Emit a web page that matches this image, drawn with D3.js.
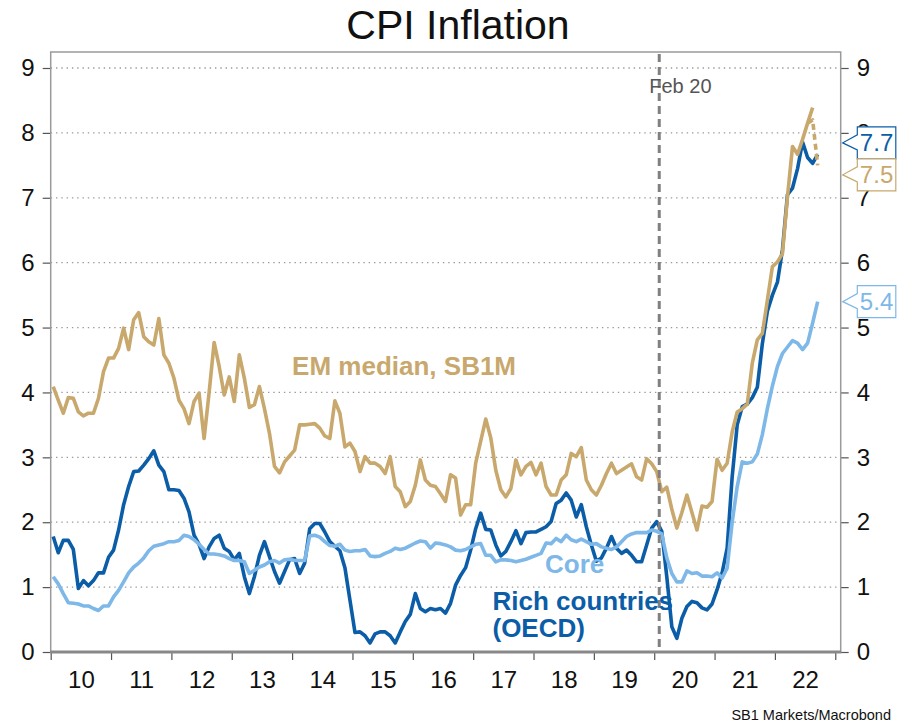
<!DOCTYPE html>
<html>
<head>
<meta charset="utf-8">
<script src="https://cdn.jsdelivr.net/npm/d3@7"></script>
<style>
	body { margin: 0; background: #fff; }
	svg { font-family: "Liberation Sans", Arial, sans-serif; }
</style>
</head>
<body>
<svg id="chart" width="911" height="724"></svg>
<script>
/*********************
	Data
**********************/
// monthly values, first one is Jan 2010
var start_year = 2010;

var em_median = [4.09, 3.88, 3.68, 3.92, 3.91, 3.70, 3.64, 3.68, 3.68, 3.91, 4.32, 4.53,
	4.53, 4.68, 4.99, 4.66, 5.12, 5.23, 4.86, 4.78, 4.73, 5.14, 4.58, 4.45,
	4.22, 3.88, 3.75, 3.52, 3.86, 3.99, 3.29, 4.00, 4.77, 4.40, 3.96, 4.24,
	3.86, 4.58, 4.22, 3.77, 3.81, 4.09, 3.75, 3.37, 2.86, 2.76, 2.93, 3.02,
	3.11, 3.50, 3.50, 3.51, 3.52, 3.45, 3.33, 3.29, 3.87, 3.68, 3.16, 3.22,
	3.09, 2.78, 3.01, 2.91, 2.91, 2.86, 2.75, 3.01, 2.55, 2.47, 2.24, 2.32,
	2.57, 2.96, 2.65, 2.57, 2.55, 2.44, 2.32, 2.73, 2.68, 2.11, 2.27, 2.27,
	2.91, 3.25, 3.59, 3.30, 2.80, 2.50, 2.39, 2.52, 2.96, 2.73, 2.86, 2.92,
	2.73, 2.91, 2.55, 2.42, 2.42, 2.65, 2.73, 3.06, 3.01, 3.15, 2.65, 2.50,
	2.42, 2.57, 2.75, 2.91, 2.75, 2.80, 2.85, 2.90, 2.70, 2.65, 2.98, 2.90,
	2.78, 2.47, 2.54, 2.20, 1.91, 2.15, 2.42, 2.15, 1.88, 2.25, 2.23, 2.32,
	2.97, 2.80, 2.91, 3.39, 3.70, 3.75, 3.82, 4.45, 4.81, 4.91, 5.42, 5.94,
	6.01, 6.14, 7.02, 7.79, 7.67, 7.90, 8.15, 8.39];

// dashed tail of the EM series, starts at month index 150
var em_tail_start = 150;
var em_tail = [8.15, 8.20, 7.50];

var rich_oecd = [1.78, 1.53, 1.72, 1.72, 1.58, 0.98, 1.10, 1.02, 1.10, 1.22, 1.22, 1.46,
	1.57, 1.88, 2.27, 2.55, 2.78, 2.79, 2.88, 2.98, 3.10, 2.88, 2.78, 2.50,
	2.50, 2.49, 2.37, 2.16, 1.80, 1.66, 1.44, 1.62, 1.75, 1.80, 1.60, 1.55,
	1.42, 1.52, 1.16, 0.90, 1.16, 1.49, 1.70, 1.47, 1.24, 1.06, 1.24, 1.42,
	1.44, 1.21, 1.37, 1.90, 1.98, 1.98, 1.85, 1.70, 1.63, 1.56, 1.30, 0.80,
	0.30, 0.31, 0.25, 0.14, 0.28, 0.31, 0.31, 0.25, 0.14, 0.31, 0.47, 0.58,
	0.90, 0.67, 0.62, 0.67, 0.65, 0.67, 0.60, 0.75, 1.03, 1.18, 1.30, 1.57,
	1.90, 2.14, 1.89, 1.88, 1.65, 1.48, 1.55, 1.70, 1.87, 1.67, 1.84, 1.85,
	1.85, 1.89, 1.93, 2.01, 2.29, 2.34, 2.45, 2.34, 2.08, 2.27, 1.93, 1.65,
	1.40, 1.45, 1.60, 1.78, 1.60, 1.52, 1.57, 1.49, 1.39, 1.39, 1.65, 1.91,
	2.01, 1.86, 1.16, 0.39, 0.21, 0.52, 0.70, 0.78, 0.76, 0.68, 0.65, 0.74,
	0.96, 1.22, 1.60, 2.70, 3.50, 3.78, 3.82, 3.92, 4.08, 4.75, 5.25, 5.50,
	5.70, 6.20, 7.05, 7.15, 7.45, 7.86, 7.62, 7.53, 7.67];

var core = [1.16, 1.05, 0.90, 0.76, 0.75, 0.74, 0.71, 0.71, 0.67, 0.64, 0.71, 0.71,
	0.85, 0.95, 1.08, 1.22, 1.31, 1.37, 1.45, 1.56, 1.63, 1.65, 1.67, 1.70,
	1.70, 1.72, 1.80, 1.78, 1.73, 1.66, 1.58, 1.51, 1.51, 1.50, 1.48, 1.44,
	1.41, 1.41, 1.39, 1.21, 1.26, 1.31, 1.34, 1.39, 1.41, 1.37, 1.42, 1.43,
	1.41, 1.41, 1.41, 1.79, 1.80, 1.77, 1.70, 1.64, 1.63, 1.66, 1.57, 1.55,
	1.56, 1.56, 1.58, 1.48, 1.47, 1.48, 1.52, 1.55, 1.60, 1.58, 1.60, 1.64,
	1.68, 1.71, 1.70, 1.60, 1.68, 1.67, 1.65, 1.62, 1.57, 1.56, 1.58, 1.62,
	1.66, 1.67, 1.49, 1.49, 1.39, 1.42, 1.42, 1.41, 1.39, 1.41, 1.43, 1.46,
	1.49, 1.52, 1.68, 1.67, 1.75, 1.70, 1.80, 1.73, 1.70, 1.74, 1.70, 1.66,
	1.67, 1.62, 1.60, 1.58, 1.62, 1.70, 1.78, 1.82, 1.84, 1.84, 1.84, 1.88,
	1.86, 1.82, 1.45, 1.21, 1.08, 1.08, 1.25, 1.21, 1.22, 1.17, 1.17, 1.16,
	1.22, 1.14, 1.29, 2.00, 2.55, 2.93, 2.91, 2.93, 3.05, 3.35, 3.75, 4.10,
	4.40, 4.60, 4.70, 4.80, 4.76, 4.66, 4.76, 5.07, 5.40];

var year_ticks = [2010, 2011, 2012, 2013, 2014, 2015, 2016, 2017, 2018, 2019, 2020, 2021, 2022, 2023];
var year_labels = ["10", "11", "12", "13", "14", "15", "16", "17", "18", "19", "20", "21", "22"];
var y_ticks = [0, 1, 2, 3, 4, 5, 6, 7, 8, 9];

var event_date = 2020 + 1 / 12;
var event_label = "Feb 20";

var end_labels = [
	{name: "rich", value: 7.7, text: "7.7"},
	{name: "em", value: 7.5, text: "7.5"},
	{name: "core", value: 5.4, text: "5.4"}
];

/*********************
	Styles
**********************/
var colors = {em: "#C8A86C", rich: "#0B5DA7", core: "#7DB8E8"};
var frame = {left: 50.7, right: 840.7, top: 52, bottom: 652};

/*********************
	Chart
**********************/
function monthToYear(i){
	return start_year + (i + 0.5) / 12;
}

var svg = d3.select("#chart");

var x = d3.scaleLinear()
	.domain([2010, 2023.09])
	.range([frame.left, frame.right]);

var y = d3.scaleLinear()
	.domain([0, 9])
	.range([frame.bottom, 68]);

// title
svg.append("text")
	.attr("x", 458)
	.attr("y", 39)
	.attr("text-anchor", "middle")
	.style("font-size", "41px")
	.style("fill", "#111")
	.text("CPI Inflation");

// dotted grid
svg.append("g").selectAll("line")
	.data(y_ticks.filter(function(d){ return d > 0; }))
	.join("line")
	.attr("x1", frame.left)
	.attr("x2", frame.right)
	.attr("y1", function(d){ return y(d); })
	.attr("y2", function(d){ return y(d); })
	.style("stroke", "#9a9a9a")
	.style("stroke-width", 1.3)
	.style("stroke-dasharray", "1.4,3.9");

// left and right axes
var left_axis = svg.append("g")
	.attr("transform", "translate(" + frame.left + ",0)")
	.call(d3.axisLeft(y).tickValues(y_ticks).tickSize(8).tickPadding(8).tickFormat(d3.format("d")));

var right_axis = svg.append("g")
	.attr("transform", "translate(" + frame.right + ",0)")
	.call(d3.axisRight(y).tickValues(y_ticks).tickSize(8).tickPadding(8).tickFormat(d3.format("d")));

// year ticks and year labels (labels sit in the middle of each year)
var x_ticks = svg.append("g")
	.attr("transform", "translate(0," + frame.bottom + ")")
	.call(d3.axisBottom(x).tickValues(year_ticks).tickSize(8).tickFormat(""));

var x_labels = svg.append("g")
	.attr("transform", "translate(0," + frame.bottom + ")")
	.call(d3.axisBottom(x)
		.tickValues(year_labels.map(function(d, i){ return year_ticks[i] + 0.5; }))
		.tickSize(0)
		.tickPadding(19)
		.tickFormat(function(d, i){ return year_labels[i]; }));

[left_axis, right_axis, x_ticks, x_labels].forEach(function(g){
	g.select(".domain").remove();
	g.selectAll(".tick line").style("stroke", "#555").style("stroke-width", 1.2);
	g.selectAll(".tick text").style("font-size", "24px").style("fill", "#111")
		.style("font-family", "'Liberation Sans', Arial, sans-serif");
});

// frame
svg.append("rect")
	.attr("x", frame.left)
	.attr("y", frame.top)
	.attr("width", frame.right - frame.left)
	.attr("height", frame.bottom - frame.top)
	.style("fill", "none")
	.style("stroke", "#9a9a9a")
	.style("stroke-width", 1.5);

svg.append("line")
	.attr("x1", frame.left - 0.5)
	.attr("x2", frame.right + 0.5)
	.attr("y1", frame.bottom)
	.attr("y2", frame.bottom)
	.style("stroke", "#888")
	.style("stroke-width", 3);

// series lines
var line = d3.line()
	.x(function(d){ return x(monthToYear(d.i)); })
	.y(function(d){ return y(d.v); });

function toPoints(values, offset){
	return values.map(function(v, i){ return {i: i + offset, v: v}; });
}

function drawSeries(values, offset, color, dash){
	svg.append("path")
		.datum(toPoints(values, offset))
		.attr("d", line)
		.style("fill", "none")
		.style("stroke", color)
		.style("stroke-width", 3.6)
		.style("stroke-linejoin", "round")
		.style("stroke-dasharray", dash || null);
}

drawSeries(rich_oecd, 0, colors.rich);
drawSeries(core, 0, colors.core);
drawSeries(em_tail, em_tail_start, colors.em, "6,4");
drawSeries(em_median, 0, colors.em);

// event line
svg.append("line")
	.attr("x1", x(event_date))
	.attr("x2", x(event_date))
	.attr("y1", frame.top + 2)
	.attr("y2", frame.bottom)
	.style("stroke", "#808080")
	.style("stroke-width", 3)
	.style("stroke-dasharray", "8,5");

svg.append("text")
	.attr("x", x(event_date) - 10)
	.attr("y", 93)
	.style("font-size", "20px")
	.style("fill", "#555")
	.text(event_label);

// series names
function seriesLabel(lines, year, value, color){
	var t = svg.append("text")
		.attr("x", x(year))
		.attr("y", y(value))
		.style("font-size", "26px")
		.style("font-weight", "bold")
		.style("fill", color);
	lines.forEach(function(s, k){
		t.append("tspan")
			.attr("x", x(year))
			.attr("dy", k == 0 ? 0 : 27)
			.text(s);
	});
}

seriesLabel(["EM median, SB1M"], 2014.0, 4.27, colors.em);
seriesLabel(["Core"], 2018.19, 1.21, colors.core);
seriesLabel(["Rich countries", "(OECD)"], 2017.32, 0.65, colors.rich);

// end value boxes, pushed apart so they do not overlap
var box_h = 32, box_w = 38.5, box_x = 857.3, tip_x = 842.7;
end_labels.forEach(function(d){ d.cy = y(d.value); });
end_labels.sort(function(a, b){ return a.cy - b.cy; });
for (var k = 1; k < end_labels.length; k++){
	var prev = end_labels[k - 1], cur = end_labels[k];
	if (cur.cy - prev.cy < box_h){
		var mid = (cur.cy + prev.cy) / 2;
		prev.cy = mid - box_h / 2;
		cur.cy = mid + box_h / 2;
	}
}

end_labels.forEach(function(d){
	var color = colors[d.name];
	var top = d.cy - box_h / 2, bot = d.cy + box_h / 2;
	svg.append("path")
		.attr("d", "M" + box_x + "," + top + "H" + (box_x + box_w) + "V" + bot + "H" + box_x +
			"V" + (d.cy + 7) + "L" + tip_x + "," + d.cy + "L" + box_x + "," + (d.cy - 8) + "Z")
		.style("fill", "#fff")
		.style("stroke", color)
		.style("stroke-width", 1.2);
	svg.append("text")
		.attr("x", box_x + box_w / 2)
		.attr("y", d.cy + 8.5)
		.attr("text-anchor", "middle")
		.style("font-size", "24px")
		.style("fill", color)
		.text(d.text);
});

// source
svg.append("text")
	.attr("x", 891)
	.attr("y", 720)
	.attr("text-anchor", "end")
	.style("font-size", "14.5px")
	.style("fill", "#111")
	.text("SB1 Markets/Macrobond");
</script>
</body>
</html>
